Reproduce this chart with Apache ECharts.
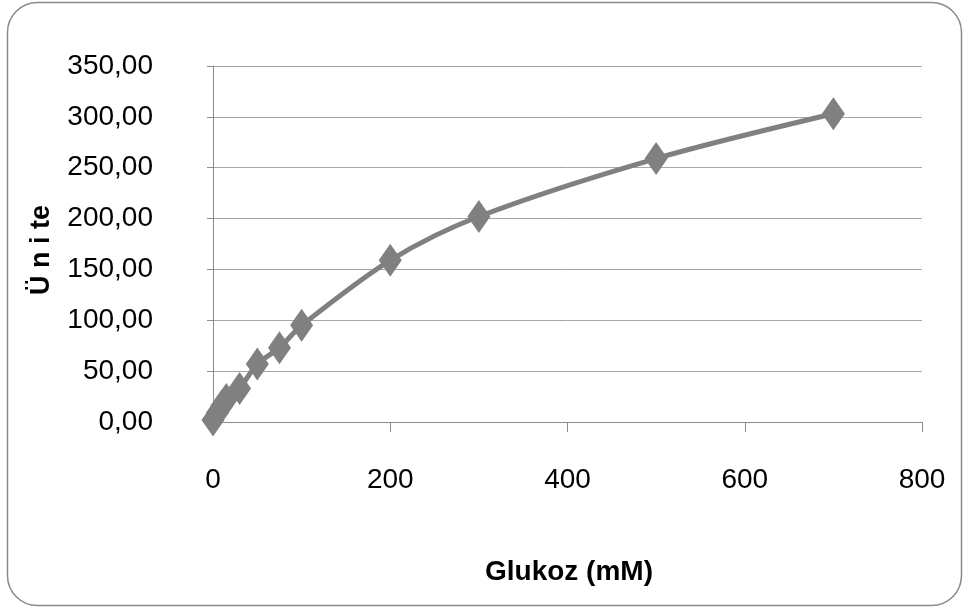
<!DOCTYPE html>
<html>
<head>
<meta charset="utf-8">
<script src="https://cdn.jsdelivr.net/npm/echarts@6/dist/echarts.min.js"></script>
<style>
  html, body { margin: 0; padding: 0; background: #fff; }
  #chart { width: 963px; height: 612px; }
</style>
</head>
<body>
<div id="chart"></div>
<script>
// Glucose concentration (mM) and measured units
const glucose = [0, 5, 10, 15, 30, 50, 75, 100, 200, 300, 500, 700];
const units   = [2, 9, 16, 22, 33, 57, 73, 95, 159, 202, 259, 303];

const xTicks = { min: 0, max: 800, step: 200 };
const yTicks = { min: 0, max: 350, step: 50 };

const xTitle = 'Glukoz (mM)';
const yTitle = 'Ü n i te';

const FONT = "'Liberation Sans Narrow', 'Liberation Sans', Arial, sans-serif";
const GREY = '#808080';

const chart = echarts.init(document.getElementById('chart'), null, { renderer: 'canvas' });

chart.setOption({
  backgroundColor: '#ffffff',
  animation: false,
  grid: { left: 213, right: 41, top: 66, bottom: 190, containLabel: false },
  xAxis: {
    type: 'value',
    min: xTicks.min, max: xTicks.max, interval: xTicks.step,
    axisLine: { show: true, onZero: false, lineStyle: { color: '#8c8c8c', width: 1 } },
    axisTick: { show: true, length: 10, lineStyle: { color: '#8c8c8c' } },
    axisLabel: { margin: 44, color: '#000', fontFamily: FONT, fontSize: 28 },
    splitLine: { show: false }
  },
  yAxis: {
    type: 'value',
    min: yTicks.min, max: yTicks.max, interval: yTicks.step,
    axisLine: { show: true, lineStyle: { color: '#8c8c8c', width: 1 } },
    axisTick: { show: true, length: 6, lineStyle: { color: '#8c8c8c' } },
    axisLabel: {
      margin: 60, color: '#000', fontFamily: FONT, fontSize: 28,
      formatter: v => v.toFixed(2).replace('.', ',')
    },
    splitLine: { show: true, lineStyle: { color: '#a6a6a6', width: 1 } }
  },
  series: [{
    type: 'line',
    data: glucose.map((g, i) => [g, units[i]]),
    smooth: 0.3,
    symbol: 'diamond',
    symbolSize: [23, 33],
    showAllSymbol: true,
    lineStyle: { color: GREY, width: 5 },
    itemStyle: { color: GREY, borderWidth: 0 }
  }],
  graphic: [
    {
      type: 'rect',
      shape: { x: 7.5, y: 2.5, width: 954, height: 603, r: 30 },
      style: { fill: 'none', stroke: '#8a8a8a', lineWidth: 1.5 },
      silent: true
    },
    {
      type: 'text',
      x: 569, y: 572,
      style: {
        text: xTitle, fontFamily: FONT, fontWeight: 'bold', fontSize: 28,
        fill: '#000', align: 'center', verticalAlign: 'middle'
      }
    },
    {
      type: 'text',
      x: 42, y: 250,
      rotation: Math.PI / 2,
      style: {
        text: yTitle, fontFamily: FONT, fontWeight: 'bold', fontSize: 27,
        fill: '#000', align: 'center', verticalAlign: 'middle'
      }
    }
  ]
});
</script>
</body>
</html>
